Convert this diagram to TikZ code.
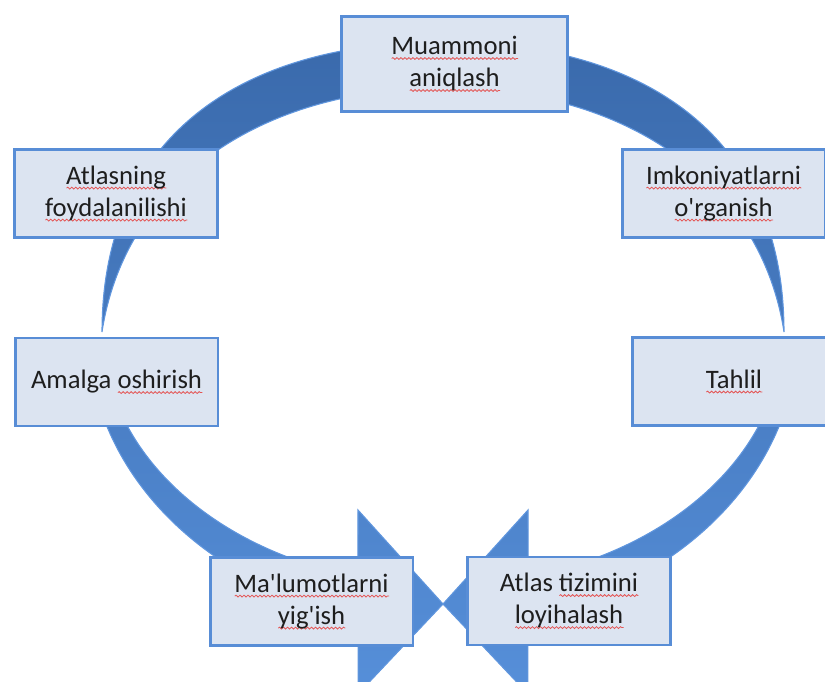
\documentclass[tikz,border=0pt]{standalone}
\usepackage{fontspec}
\setmainfont{Carlito}
\usetikzlibrary{decorations.pathmorphing}
\definecolor{boxfill}{RGB}{220,228,241}
\definecolor{boxline}{RGB}{88,141,214}
\definecolor{bandtop}{RGB}{58,106,172}
\definecolor{bandbot}{RGB}{86,143,217}
\definecolor{bandline}{RGB}{96,150,222}
\definecolor{squigred}{RGB}{228,84,84}
\definecolor{textcol}{RGB}{30,30,30}
\newlength\sqlen
\newcommand\sq[1]{\settowidth\sqlen{#1}\rlap{\tikz[baseline=0pt]\draw[squig] (0pt,-3pt) -- (\sqlen,-3pt);}#1}

\begin{document}
\begin{tikzpicture}[x=0.75pt,y=0.75pt,
    box/.style={draw=boxline,fill=boxfill,line width=2pt,minimum width=152pt,minimum height=66pt,
        inner sep=0pt,align=center,text=textcol,font=\fontsize{20}{24}\selectfont},
    band/.style={top color=bandtop,bottom color=bandbot,draw=bandline,line width=0.8pt},
    squig/.style={draw=squigred,line width=0.6pt,decorate,decoration={snake,amplitude=0.7pt,segment length=3pt}}]
    \useasboundingbox (0,0) rectangle (825,682);
    % ring with the two arrows meeting at the bottom
    \path[band]
        (443,640) .. controls (240,640) and (102,545) .. (102,350)
            .. controls (125,500) and (260,594) .. (443,594)
            .. controls (626,594) and (761,500) .. (784,350)
            .. controls (784,545) and (646,640) .. (443,640) -- cycle
        (88.5,334.7) arc[start angle=183,end angle=256.2,x radius=355,y radius=293]
            -- (358,-12) -- (443,78) -- (358,172) -- (357.9,105.1)
            arc[start angle=255.5,end angle=183,x radius=340,y radius=253] -- cycle
        (797.5,334.7) arc[start angle=-3,end angle=-76.2,x radius=355,y radius=293]
            -- (528,-12) -- (443,78) -- (528,172) -- (528.1,105.1)
            arc[start angle=-75.5,end angle=-3,x radius=340,y radius=253] -- cycle;
    % steps
    \node[box,minimum width=169.5pt,minimum height=71pt] (mua) at (454.5,618) {\sq{Muammoni}\\\sq{aniqlash}};
    \node[box] (imk) at (723.5,488.5) {\sq{Imkoniyatlarni}\\\sq{o\textquotesingle rganish}};
    \node[box] (tah) at (734,300.5) {\sq{Tahlil}};
    \node[box] (atl) at (569,81) {Atlas \sq{tizimini}\\\sq{loyihalash}};
    \node[box] (mal) at (311.5,80.5) {\sq{Ma\textquotesingle lumotlarni}\\\sq{yig\textquotesingle ish}};
    \node[box] (ama) at (116.5,300) {Amalga \sq{oshirish}};
    \node[box] (foy) at (116,488.5) {\sq{Atlasning}\\\sq{foydalanilishi}};
\end{tikzpicture}
\end{document}
